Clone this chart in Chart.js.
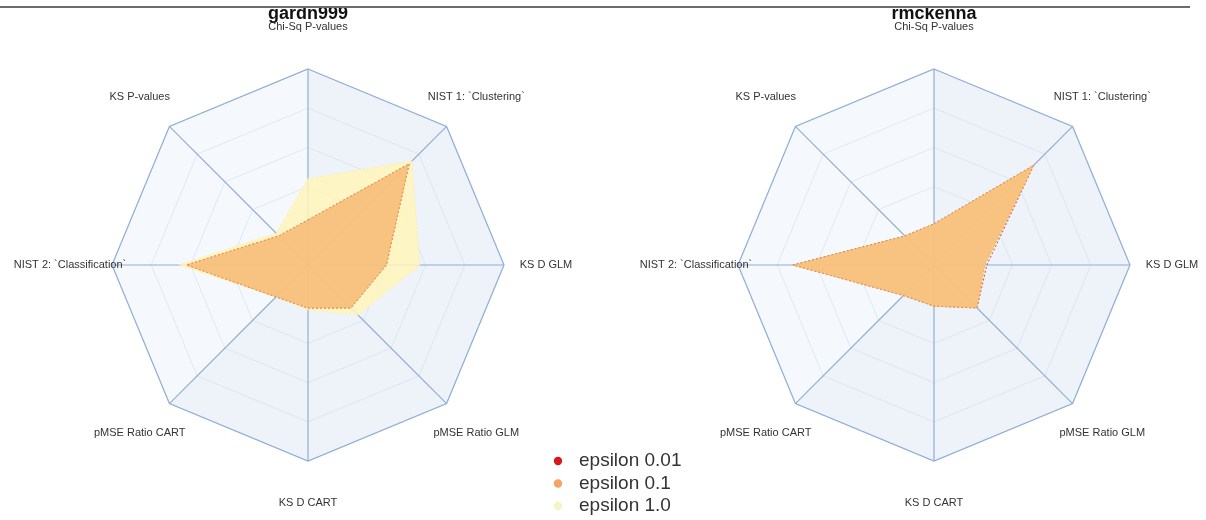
<!DOCTYPE html>
<html>
<head>
<meta charset="utf-8">
<script src="https://cdn.jsdelivr.net/npm/chart.js@4/dist/chart.umd.min.js"></script>
<style>
  html, body { margin: 0; padding: 0; background: #ffffff; }
  #wrap { position: relative; width: 1206px; height: 520px; overflow: hidden; }
  #wrap canvas { position: absolute; top: 0; }
  #rule { position: absolute; left: 0; top: 0; width: 1190px; height: 6px; background: #ffffff;
          border-bottom: 2px solid #6d6d6d; z-index: 5; }
</style>
</head>
<body>
<div id="wrap">
  <canvas id="chartA" width="700" height="520" style="left:0px"></canvas>
  <canvas id="chartB" width="580" height="520" style="left:626px"></canvas>
  <div id="rule"></div>
</div>
<script>
// Metric axes, clockwise from the top
const metrics = [
  'Chi-Sq P-values',
  'NIST 1: `Clustering`',
  'KS D GLM',
  'pMSE Ratio GLM',
  'KS D CART',
  'pMSE Ratio CART',
  'NIST 2: `Classification`',
  'KS P-values'
];

const seriesNames = ['epsilon 0.01', 'epsilon 0.1', 'epsilon 1.0'];

// Team scores (0 = worst, 1 = best), one array per epsilon
const gardn999_eps001 = [0.23, 0.73, 0.40, 0.31, 0.22, 0.23, 0.62, 0.21];
const gardn999_eps01  = [0.23, 0.73, 0.40, 0.31, 0.22, 0.23, 0.62, 0.21];
const gardn999_eps10  = [0.44, 0.75, 0.57, 0.36, 0.23, 0.23, 0.66, 0.23];

const rmckenna_eps001 = [0.21, 0.72, 0.27, 0.31, 0.21, 0.22, 0.72, 0.21];
const rmckenna_eps01  = [0.21, 0.72, 0.26, 0.31, 0.21, 0.22, 0.72, 0.21];
const rmckenna_eps10  = [0.21, 0.72, 0.26, 0.31, 0.21, 0.22, 0.72, 0.21];

// Stacking: smaller order is painted later (on top)
const seriesStyle = [
  { fill: 'rgba(215,25,28,0)',      border: 'rgba(205,35,30,0.8)',   dot: '#d7191c', order: 1 },
  { fill: 'rgba(245,176,102,0.72)', border: 'rgba(240,160,80,0.8)',  dot: '#f5a462', order: 0 },
  { fill: 'rgba(255,244,186,0.85)', border: 'rgba(252,238,165,0.9)', dot: '#f3f5c9', order: 2 }
];

const spokeColor = '#8fadd4';
const labelFont = '11px "Liberation Sans", Arial, sans-serif';

// Octagon backdrop with shaded wedges
const backdropPlugin = {
  id: 'backdrop',
  beforeDraw(chart) {
    const s = chart.scales.r;
    const ctx = chart.ctx;
    const n = chart.data.labels.length;
    const R = s.drawingArea;
    const shaded = [true, true, true, true, true, false, false, false];
    ctx.save();
    for (let i = 0; i < n; i++) {
      const a = s.getPointPosition(i, R);
      const b = s.getPointPosition((i + 1) % n, R);
      ctx.beginPath();
      ctx.moveTo(s.xCenter, s.yCenter);
      ctx.lineTo(a.x, a.y);
      ctx.lineTo(b.x, b.y);
      ctx.closePath();
      ctx.fillStyle = shaded[i] ? '#edf3f9' : '#f5f9fd';
      ctx.fill();
    }
    ctx.restore();
  }
};

// Axis captions centred on a ring outside the octagon, plus the panel title
const captionPlugin = {
  id: 'captions',
  afterDraw(chart, args, opts) {
    const s = chart.scales.r;
    const ctx = chart.ctx;
    ctx.save();
    ctx.fillStyle = '#333333';
    ctx.font = labelFont;
    ctx.textAlign = 'center';
    ctx.textBaseline = 'middle';
    chart.data.labels.forEach((lab, i) => {
      const p = s.getPointPosition(i, opts.distance);
      ctx.fillText(lab, p.x, p.y);
    });
    ctx.font = 'bold 18px "Liberation Sans", Arial, sans-serif';
    ctx.fillStyle = '#111111';
    ctx.textBaseline = 'alphabetic';
    ctx.fillText(opts.title, s.xCenter, 19);
    ctx.restore();
  }
};

// Shared legend drawn between the two panels
const legendPlugin = {
  id: 'sideLegend',
  afterDraw(chart, args, opts) {
    if (!opts.show) return;
    const ctx = chart.ctx;
    ctx.save();
    ctx.font = '19px "Liberation Sans", Arial, sans-serif';
    ctx.textAlign = 'left';
    ctx.textBaseline = 'middle';
    chart.data.datasets.forEach((ds, i) => {
      const y = opts.y + i * opts.step;
      ctx.beginPath();
      ctx.arc(opts.x, y, 4.2, 0, Math.PI * 2);
      ctx.fillStyle = seriesStyle[i].dot;
      ctx.fill();
      ctx.fillStyle = '#333333';
      ctx.fillText(ds.label, opts.x + 21, y);
    });
    ctx.restore();
  }
};

function makeDatasets(values) {
  return values.map((v, i) => ({
    label: seriesNames[i],
    data: v,
    order: seriesStyle[i].order,
    backgroundColor: seriesStyle[i].fill,
    borderColor: seriesStyle[i].border,
    borderWidth: 1,
    borderDash: [2, 2],
    pointRadius: 0,
    fill: true
  }));
}

function makeChart(id, title, values, pad, showLegend) {
  return new Chart(document.getElementById(id), {
    type: 'radar',
    data: { labels: metrics, datasets: makeDatasets(values) },
    options: {
      responsive: false,
      animation: false,
      layout: { padding: pad },
      elements: { line: { tension: 0 } },
      scales: {
        r: {
          min: 0,
          max: 1,
          ticks: { display: false, stepSize: 0.2 },
          pointLabels: { display: false },
          angleLines: { color: spokeColor, lineWidth: 1.2 },
          grid: {
            color: (c) => (c.tick && c.tick.value >= 0.999 ? spokeColor : 'rgba(205,218,232,0.55)'),
            lineWidth: (c) => (c.tick && c.tick.value >= 0.999 ? 1.2 : 1)
          }
        }
      },
      plugins: {
        legend: { display: false },
        tooltip: { enabled: false },
        captions: { distance: 238, title: title },
        sideLegend: { show: showLegend, x: 558, y: 461, step: 22.5 }
      }
    },
    plugins: [backdropPlugin, captionPlugin, legendPlugin]
  });
}

makeChart('chartA', 'gardn999',
  [gardn999_eps001, gardn999_eps01, gardn999_eps10],
  { left: 112, right: 196, top: 69, bottom: 59 }, true);

makeChart('chartB', 'rmckenna',
  [rmckenna_eps001, rmckenna_eps01, rmckenna_eps10],
  { left: 112, right: 76, top: 69, bottom: 59 }, false);
</script>
</body>
</html>
